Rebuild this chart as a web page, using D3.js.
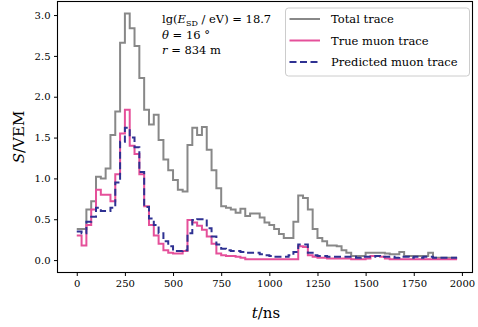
<!DOCTYPE html>
<html lang="en">
<head>
<meta charset="UTF-8">
<title>Muon trace</title>
<script src="https://d3js.org/d3.v7.min.js"></script>
<style>
  body { margin: 0; background: #fff; }
  svg { display: block; }
  svg text { font-family: "DejaVu Serif", serif; }
  .axis path { display: none; }
  .axis line { stroke: #000; }
</style>
</head>
<body>
<svg width="478" height="327"></svg>
<script>
  // trace bins, 25 ns each
  const binStart = d3.range(0, 2000, 25);

  const totalTrace = [0.38, 0.38, 0.62, 0.72, 1.02, 1.00, 1.12, 1.53, 1.82, 2.66,
    3.02, 2.84, 2.62, 2.23, 1.84, 1.66, 1.78, 1.47, 1.23, 1.10,
    0.98, 0.86, 0.84, 1.41, 1.62, 1.53, 1.63, 1.35, 1.10, 0.88,
    0.66, 0.64, 0.62, 0.58, 0.63, 0.54, 0.57, 0.57, 0.52, 0.46,
    0.43, 0.38, 0.32, 0.27, 0.27, 0.47, 0.79, 0.76, 0.62, 0.38,
    0.27, 0.23, 0.18, 0.18, 0.17, 0.12, 0.09, 0.05, 0.05, 0.05,
    0.09, 0.09, 0.09, 0.09, 0.08, 0.07, 0.07, 0.10, 0.05, 0.05,
    0.05, 0.05, 0.05, 0.09, 0.03, 0.03, 0.03, 0.03, 0.03, 0.03];

  const trueMuon = [0.30, 0.18, 0.43, 0.62, 0.86, 0.80, 0.80, 0.72, 1.05, 1.55,
    1.84, 1.40, 1.30, 1.05, 0.66, 0.43, 0.30, 0.20, 0.12, 0.09,
    0.08, 0.08, 0.11, 0.49, 0.46, 0.42, 0.37, 0.29, 0.20, 0.08,
    0.06, 0.05, 0.05, 0.04, 0.03, 0.01, 0.01, 0.01, 0.01, 0.01,
    0.01, 0.01, 0.01, 0.01, 0.01, 0.01, 0.17, 0.16, 0.06, 0.04,
    0.03, 0.03, 0.02, 0.02, 0.02, 0.02, 0.02, 0.01, 0.01, 0.01,
    0.02, 0.05, 0.05, 0.04, 0.02, 0.01, 0.01, 0.01, 0.01, 0.01,
    0.01, 0.01, 0.01, 0.01, 0.01, 0.01, 0.01, 0.01, 0.01, 0.01];

  const predMuon = [0.35, 0.33, 0.47, 0.53, 0.64, 0.60, 0.60, 0.64, 0.95, 1.45,
    1.62, 1.50, 1.38, 1.08, 0.65, 0.51, 0.43, 0.33, 0.23, 0.17,
    0.11, 0.11, 0.12, 0.33, 0.49, 0.50, 0.50, 0.39, 0.29, 0.19,
    0.14, 0.12, 0.11, 0.11, 0.10, 0.09, 0.09, 0.09, 0.07, 0.06,
    0.05, 0.04, 0.04, 0.04, 0.06, 0.10, 0.19, 0.19, 0.09, 0.06,
    0.05, 0.05, 0.04, 0.04, 0.04, 0.04, 0.04, 0.04, 0.03, 0.04,
    0.04, 0.04, 0.05, 0.04, 0.04, 0.04, 0.03, 0.04, 0.04, 0.03,
    0.04, 0.03, 0.04, 0.04, 0.03, 0.03, 0.03, 0.03, 0.03, 0.03];

  const xTicks = [0, 250, 500, 750, 1000, 1250, 1500, 1750, 2000];
  const yTicks = [0, 0.5, 1.0, 1.5, 2.0, 2.5, 3.0];

  const seriesNames = ["Total trace", "True muon trace", "Predicted muon trace"];
  const seriesColors = ["#888888", "#e5509a", "#2e3192"];
  const seriesDash = [null, null, "7,3.5"];

  const svg = d3.select("svg");
  const plotL = 57.5, plotR = 472.5, plotT = 1.5, plotB = 272.5;

  const x = d3.scaleLinear().domain([-100, 2055]).range([plotL, plotR]);
  const y = d3.scaleLinear().domain([-0.152, 3.166]).range([plotB, plotT]);

  // axes
  svg.append("g")
    .attr("class", "axis")
    .attr("transform", `translate(0,${plotB})`)
    .call(d3.axisBottom(x).tickValues(xTicks).tickSize(3.5).tickPadding(3.5).tickFormat(d3.format("d")))
    .attr("font-family", "DejaVu Serif").attr("font-size", 10);

  svg.append("g")
    .attr("class", "axis")
    .attr("transform", `translate(${plotL},0)`)
    .call(d3.axisLeft(y).tickValues(yTicks).tickSize(3.5).tickPadding(3.5).tickFormat(d3.format(".1f")))
    .attr("font-family", "DejaVu Serif").attr("font-size", 10);

  // traces
  const line = d3.line()
    .x((d, i) => x(binStart[i]))
    .y(d => y(d))
    .curve(d3.curveStepAfter);

  [totalTrace, trueMuon, predMuon].forEach((vals, k) => {
    svg.append("path")
      .datum(vals)
      .attr("fill", "none")
      .attr("stroke", seriesColors[k])
      .attr("stroke-width", 2)
      .attr("stroke-dasharray", seriesDash[k])
      .attr("d", line);
  });

  // frame
  svg.append("rect")
    .attr("x", plotL).attr("y", plotT)
    .attr("width", plotR - plotL).attr("height", plotB - plotT)
    .attr("fill", "none").attr("stroke", "#000").attr("stroke-width", 1.1);

  // annotation
  const ann = svg.append("text").attr("font-size", 11.5).attr("fill", "#000");
  const l1 = ann.append("tspan").attr("x", 162).attr("y", 23);
  l1.append("tspan").text("lg(");
  l1.append("tspan").attr("font-style", "italic").text("E");
  l1.append("tspan").attr("font-size", 8).attr("dy", 2.5).text("SD");
  l1.append("tspan").attr("dy", -2.5).text(" / eV) = 18.7");
  const l2 = ann.append("tspan").attr("x", 162).attr("y", 38.5);
  l2.append("tspan").attr("font-style", "italic").text("θ");
  l2.append("tspan").text(" = 16 °");
  const l3 = ann.append("tspan").attr("x", 162).attr("y", 54);
  l3.append("tspan").attr("font-style", "italic").text("r");
  l3.append("tspan").text(" = 834 m");

  // legend
  const lg = svg.append("g");
  lg.append("rect")
    .attr("x", 285.5).attr("y", 8).attr("width", 184).attr("height", 68).attr("rx", 3)
    .attr("fill", "#fff").attr("fill-opacity", 0.8)
    .attr("stroke", "#cccccc").attr("stroke-width", 1);
  seriesNames.forEach((name, k) => {
    const yy = 19 + k * 21.5;
    lg.append("line")
      .attr("x1", 289.5).attr("x2", 320).attr("y1", yy).attr("y2", yy)
      .attr("stroke", seriesColors[k]).attr("stroke-width", 2)
      .attr("stroke-dasharray", seriesDash[k]);
    lg.append("text")
      .attr("x", 331).attr("y", yy + 4)
      .attr("font-size", 11.5).attr("fill", "#000")
      .text(name);
  });

  // axis labels
  const xl = svg.append("text")
    .attr("x", 266).attr("y", 318).attr("text-anchor", "middle")
    .attr("font-size", 15).attr("fill", "#000");
  xl.append("tspan").attr("font-style", "italic").text("t");
  xl.append("tspan").text("/ns");

  const yl = svg.append("text")
    .attr("transform", "translate(24,137) rotate(-90)")
    .attr("text-anchor", "middle")
    .attr("font-size", 15).attr("fill", "#000");
  yl.append("tspan").attr("font-style", "italic").text("S");
  yl.append("tspan").text("/VEM");
</script>
</body>
</html>
